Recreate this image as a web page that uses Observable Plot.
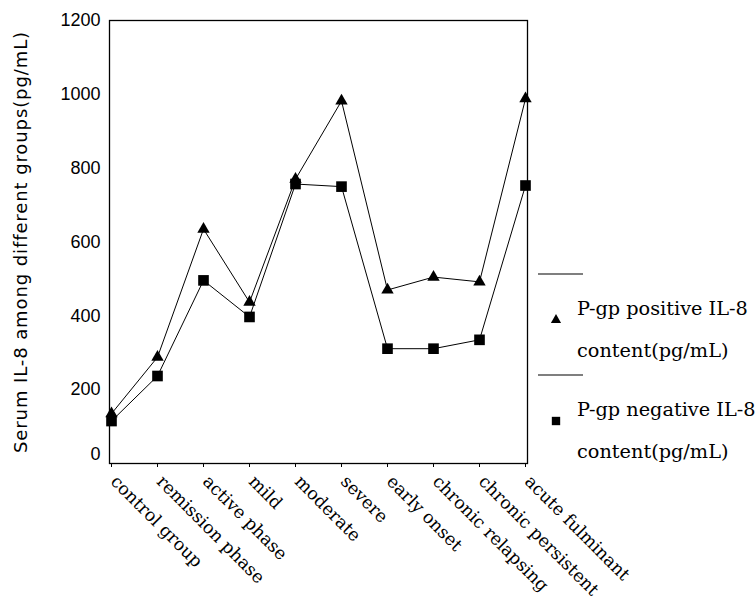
<!DOCTYPE html>
<html>
<head>
<meta charset="utf-8">
<script src="https://cdn.jsdelivr.net/npm/d3@7"></script>
<script src="https://cdn.jsdelivr.net/npm/@observablehq/plot@0.6"></script>
<style>
  html, body { margin: 0; padding: 0; background: #fff; }
  #wrap { position: relative; width: 756px; height: 601px; }
</style>
</head>
<body>
<div id="wrap"></div>
<script>
const categories = ["control group", "remission phase", "active phase", "mild", "moderate", "severe", "early onset", "chronic relapsing", "chronic persistent", "acute fulminant"];
const positive = [135, 288, 635, 437, 770, 982, 470, 505, 492, 988];
const negative = [115, 237, 496, 397, 757, 750, 311, 311, 335, 753];
const yTicks = [0, 200, 400, 600, 800, 1000, 1200];
const seriesNames = ["P-gp positive IL-8 content(pg/mL)", "P-gp negative IL-8 content(pg/mL)"];
const yLabel = "Serum IL-8 among different groups(pg/mL)";

const posData = categories.map((c, i) => ({cat: c, value: positive[i]}));
const negData = categories.map((c, i) => ({cat: c, value: negative[i]}));

const chart = Plot.plot({
  width: 756,
  height: 601,
  marginLeft: 109,
  marginRight: 229,
  marginTop: 20,
  marginBottom: 138,
  style: {background: "#fff", color: "#000", overflow: "visible"},
  x: {type: "point", domain: categories, padding: 0},
  y: {domain: [0, 1200]},
  marks: [
    Plot.frame({stroke: "#000", strokeWidth: 1.3}),
    Plot.axisY({
      ticks: yTicks, tickSize: 0, tickPadding: 9, tickFormat: d => String(d),
      fontSize: 18, fontFamily: "Liberation Sans",
      label: yLabel, labelAnchor: "center", labelArrow: "none", labelOffset: 95
    }),
    Plot.axisX({
      tickSize: 4, tickPadding: 9, tickRotate: 45,
      fontSize: 17.5, fontFamily: "DejaVu Serif", label: null
    }),
    Plot.line(posData, {x: "cat", y: "value", stroke: "#000", strokeWidth: 1}),
    Plot.line(negData, {x: "cat", y: "value", stroke: "#000", strokeWidth: 1}),
    Plot.dot(posData, {x: "cat", y: "value", symbol: "triangle", r: 4.6, fill: "#000"}),
    Plot.dot(negData, {x: "cat", y: "value", symbol: "square", r: 6, fill: "#000"})
  ]
});
document.getElementById("wrap").appendChild(chart);

const svg = d3.select(chart);
// style y-axis label font
svg.selectAll("text").filter(function() { return this.textContent === yLabel; })
  .attr("font-family", "DejaVu Sans").attr("font-size", 18).attr("letter-spacing", "0.9px");
// "0" tick label sits slightly above the axis in the original
svg.selectAll("text").filter(function() { return this.textContent === "0"; })
  .attr("dy", "-0.5em");
// x tick labels: shift along the diagonal a little
svg.selectAll("text").filter(function() { return categories.includes(this.textContent); })
  .attr("dx", 3);

// Legend drawn into the same SVG
const lg = svg.append("g").attr("font-family", "DejaVu Serif").attr("font-size", 19.3)
  .attr("fill", "#000").attr("text-anchor", "start");
const items = [
  {y0: 274, symbol: d3.symbolTriangle, size: 45, lines: ["P-gp positive IL-8", "content(pg/mL)"]},
  {y0: 375, symbol: d3.symbolSquare, size: 70, lines: ["P-gp negative IL-8", "content(pg/mL)"]}
];
items.forEach(it => {
  lg.append("line").attr("x1", 538).attr("x2", 583).attr("y1", it.y0).attr("y2", it.y0).attr("stroke", "#000").attr("stroke-width", 1.2);
  lg.append("path").attr("d", d3.symbol(it.symbol, it.size)()).attr("transform", `translate(556,${it.y0 + 46})`).attr("fill", "#000");
  it.lines.forEach((t, j) => {
    lg.append("text").attr("x", 577).attr("y", it.y0 + 34 + j * 42).attr("dy", "0.35em").attr("text-anchor", "start").text(t);
  });
});
</script>
</body>
</html>
